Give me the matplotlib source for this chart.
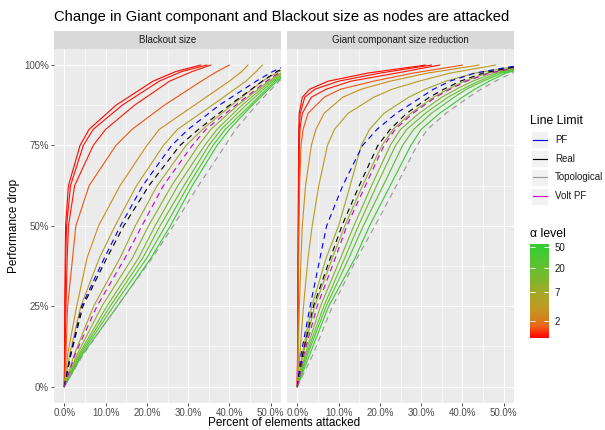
import numpy as np
import matplotlib
matplotlib.use("Agg")
import matplotlib.pyplot as plt
from matplotlib.colors import LinearSegmentedColormap, LogNorm
from matplotlib.cm import ScalarMappable
from matplotlib.patches import Rectangle
from matplotlib.ticker import NullLocator

plt.rcParams['font.family'] = ['Liberation Sans', 'DejaVu Sans']

# ---------------- data ----------------
TITLE = "Change in Giant componant and Blackout size as nodes are attacked"
PANELS = ["Blackout size", "Giant componant size reduction"]
X_LABEL = "Percent of elements attacked"
Y_LABEL = "Performance drop"
X_TICKS = [0, 10, 20, 30, 40, 50]
Y_TICKS = [0, 25, 50, 75, 100]
ALPHA_LEVELS = [1.0, 1.05, 1.1, 1.5, 3, 4.5, 7, 10, 14, 20, 30, 50]
ALPHA_TICKS = [2, 7, 20, 50]
LIMIT_NAMES = ["PF", "Real", "Topological", "Volt PF"]

# Blackout size panel: x (% attacked) at which each curve reaches these y levels (%)
BO_LEVELS = [0, 10, 25, 40, 50, 62.5, 75, 80, 87.5, 95, 98, 100]
BO_A01 = [0, 0.05, 0.1, 0.2, 0.3, 1.0, 3.8, 6.0, 12.5, 21.5, 27.0, 33.0]
BO_A02 = [0, 0.1, 0.2, 0.35, 0.55, 1.5, 4.6, 7.0, 14.0, 23.0, 28.5, 34.5]
BO_A03 = [0, 0.2, 0.4, 0.7, 1.0, 2.5, 7.0, 10.0, 17.0, 25.5, 31.0, 35.5]
BO_A04 = [0, 0.4, 0.8, 2.0, 2.8, 6.0, 12.5, 16.4, 24.2, 33.2, 37.0, 40.0]
BO_A05 = [0, 0.8, 3.0, 5.5, 8.3, 13.5, 20.0, 23.0, 31.5, 40.0, 43.0, 44.5]
BO_A06 = [0, 1.3, 4.0, 8.5, 12.3, 17.5, 24.0, 27.4, 35.8, 44.0, 46.5, 48.0]
BO_A07 = [0, 2.4, 7.1, 13.5, 17.2, 22.5, 29.5, 33.5, 40.5, 48.0, 52.0, 56.0]
BO_A08 = [0, 3.1, 9.1, 16.5, 20.4, 26.0, 32.5, 35.5, 42.0, 49.5, 53.0, 57.0]
BO_A09 = [0, 3.5, 10.3, 18.0, 22.0, 27.5, 34.0, 37.0, 43.0, 50.0, 53.5, 57.0]
BO_A10 = [0, 3.8, 11.1, 19.0, 23.2, 29.0, 35.0, 38.0, 44.0, 50.5, 54.0, 58.0]
BO_A11 = [0, 4.1, 11.9, 20.0, 24.5, 30.0, 36.0, 39.0, 45.0, 51.0, 54.5, 58.0]
BO_A12 = [0, 4.4, 12.9, 21.0, 25.7, 31.0, 37.0, 40.0, 45.5, 51.5, 55.0, 59.0]
BO_PF = [0, 1.5, 4.2, 9.7, 13.6, 19.0, 26.0, 30.0, 37.5, 46.5, 50.5, 54.0]
BO_REAL = [0, 1.6, 4.5, 10.3, 14.4, 20.5, 28.0, 32.5, 40.0, 48.0, 51.5, 55.0]
BO_TOPO = [0, 4.6, 12.8, 21.3, 26.4, 32.5, 39.0, 41.5, 46.5, 52.0, 55.5, 60.0]
BO_VOLT = [0, 2.6, 7.9, 14.7, 18.8, 24.0, 31.0, 34.3, 41.5, 49.0, 52.5, 56.0]

# Giant component panel
GC_LEVELS = [0, 10, 25, 40, 50, 62.5, 75, 80, 85, 90, 92.5, 95, 97.5, 100]
GC_A01 = [0, 0.05, 0.1, 0.15, 0.2, 0.25, 0.3, 0.35, 0.45, 1.2, 3.0, 7.5, 17.0, 31.0]
GC_A02 = [0, 0.07, 0.15, 0.2, 0.25, 0.3, 0.35, 0.45, 0.7, 1.8, 4.3, 10.0, 20.0, 32.5]
GC_A03 = [0, 0.1, 0.2, 0.25, 0.3, 0.4, 0.5, 0.65, 1.2, 3.4, 7.0, 13.0, 24.0, 34.5]
GC_A04 = [0, 0.1, 0.2, 0.3, 0.4, 0.55, 0.9, 1.4, 2.6, 6.5, 10.5, 18.5, 28.0, 40.0]
GC_A05 = [0, 0.2, 0.5, 0.9, 1.2, 2.0, 3.4, 4.5, 6.5, 11.0, 15.5, 22.5, 31.5, 44.0]
GC_A06 = [0, 0.6, 1.5, 2.6, 3.6, 5.2, 7.3, 9.0, 12.3, 18.5, 23.0, 29.5, 37.0, 48.0]
GC_A07 = [0, 1.2, 3.5, 7.0, 10.0, 12.8, 15.5, 17.5, 21.0, 27.0, 31.0, 36.0, 43.0, 55.0]
GC_A08 = [0, 1.4, 4.2, 8.5, 11.5, 15.8, 20.5, 23.2, 27.5, 33.0, 36.5, 40.5, 46.0, 56.0]
GC_A09 = [0, 1.9, 5.6, 10.5, 13.7, 18.0, 22.5, 25.0, 29.5, 35.0, 38.5, 42.5, 47.5, 57.0]
GC_A10 = [0, 2.2, 6.4, 11.5, 14.8, 19.2, 23.8, 26.5, 31.0, 36.5, 40.0, 44.0, 48.5, 57.0]
GC_A11 = [0, 2.5, 7.0, 12.5, 16.0, 20.8, 25.5, 28.2, 32.5, 38.0, 41.0, 45.0, 49.5, 58.0]
GC_A12 = [0, 3.0, 7.6, 14.0, 17.5, 22.5, 27.5, 30.0, 34.5, 40.0, 43.0, 46.5, 50.5, 58.0]
GC_PF = [0, 0.9, 3.1, 5.5, 7.1, 11.0, 15.8, 19.3, 24.0, 30.0, 33.0, 37.0, 43.0, 54.0]
GC_REAL = [0, 1.3, 3.9, 8.0, 10.8, 15.0, 19.5, 22.5, 26.5, 32.0, 35.5, 39.5, 45.0, 55.0]
GC_TOPO = [0, 3.8, 8.5, 14.5, 18.8, 24.0, 29.0, 31.5, 36.0, 41.5, 44.5, 48.0, 52.0, 60.0]
GC_VOLT = [0, 1.6, 4.8, 9.2, 12.0, 16.5, 21.0, 23.7, 28.0, 33.5, 37.0, 41.0, 46.5, 56.0]

# ---------------- style ----------------
LIMIT_COLORS = ["#0000FF", "#000000", "#999999", "#CD00CD"]
CMAP_STOPS = [
    (0.00, (255, 0, 0)), (0.06, (250, 45, 10)), (0.12, (238, 95, 22)),
    (0.20, (212, 128, 30)), (0.30, (196, 150, 34)), (0.40, (178, 162, 40)),
    (0.50, (158, 170, 42)), (0.62, (125, 182, 45)), (0.75, (100, 192, 48)),
    (0.88, (72, 200, 50)), (1.00, (50, 205, 50)),
]
cmap = LinearSegmentedColormap.from_list(
    "alpha", [(t, tuple(c / 255 for c in rgb)) for t, rgb in CMAP_STOPS])
norm = LogNorm(vmin=0.95, vmax=58)

FS_TITLE = 10.6
FS_AXTITLE = 8.5
FS_TICK = 7.0
FS_STRIP = 7.0
FS_LEGTITLE = 8.8
FS_LEGTEXT = 7.0

W, H = 605, 430
fig = plt.figure(figsize=(W / 100, H / 100), dpi=100)
fig.patch.set_facecolor("white")


def box(x0, y0, x1, y1):
    return [x0 / W, 1 - y1 / H, (x1 - x0) / W, (y1 - y0) / H]


LW = 0.82
DASH = (0, (5.0, 3.8))
PANEL_X = [(54, 281), (287, 514)]
PANEL_TOP, PANEL_BOTTOM = 49, 402.7
STRIP_TOP = 30.5
X_MINOR = [5, 15, 25, 35, 45]
Y_MINOR = [12.5, 37.5, 62.5, 87.5]

panel_data = [
    (BO_LEVELS,
     [BO_A01, BO_A02, BO_A03, BO_A04, BO_A05, BO_A06, BO_A07, BO_A08, BO_A09, BO_A10, BO_A11, BO_A12],
     [BO_PF, BO_REAL, BO_TOPO, BO_VOLT]),
    (GC_LEVELS,
     [GC_A01, GC_A02, GC_A03, GC_A04, GC_A05, GC_A06, GC_A07, GC_A08, GC_A09, GC_A10, GC_A11, GC_A12],
     [GC_PF, GC_REAL, GC_TOPO, GC_VOLT]),
]

for i, ((x0, x1), (levels, acurves, lcurves)) in enumerate(zip(PANEL_X, panel_data)):
    ax = fig.add_axes(box(x0, PANEL_TOP, x1, PANEL_BOTTOM))
    ax.set_facecolor("#EBEBEB")
    for s in ax.spines.values():
        s.set_visible(False)
    ax.set_xlim(-2.5, 52.5)
    ax.set_ylim(-5, 105)
    ax.set_xticks(X_TICKS)
    ax.set_xticks(X_MINOR, minor=True)
    ax.set_yticks(Y_TICKS)
    ax.set_yticks(Y_MINOR, minor=True)
    ax.grid(which="major", color="white", linewidth=0.8)
    ax.grid(which="minor", color="white", linewidth=0.4)
    ax.set_axisbelow(True)
    ax.tick_params(which="minor", length=0)
    ax.tick_params(which="major", length=2.3, width=0.6, color="#333333",
                   labelsize=FS_TICK, labelcolor="#4D4D4D", pad=1.5)
    ax.set_xticklabels([f"{v:.1f}%" for v in X_TICKS])
    if i == 0:
        ax.set_yticklabels([f"{v}%" for v in Y_TICKS])
    else:
        ax.tick_params(axis="y", which="both", left=False, labelleft=False)
    for a, xs in zip(ALPHA_LEVELS, acurves):
        ax.plot(xs, levels, color=cmap(norm(a)), lw=LW, zorder=2)
    for col, xs in zip(LIMIT_COLORS, lcurves):
        ax.plot(xs, levels, color=col, lw=LW, linestyle=DASH, zorder=3)

    sax = fig.add_axes(box(x0, STRIP_TOP, x1, PANEL_TOP))
    sax.set_facecolor("#D9D9D9")
    sax.set_xticks([])
    sax.set_yticks([])
    for s in sax.spines.values():
        s.set_visible(False)
    sax.text(0.5, 0.5, PANELS[i], ha="center", va="center", fontsize=FS_STRIP,
             color="#1A1A1A", transform=sax.transAxes)

# titles
fig.text(54 / W, 1 - 21.5 / H, TITLE, fontsize=FS_TITLE, ha="left", va="baseline", color="black")
fig.text(14 / W, 1 - 226 / H, Y_LABEL, rotation=90, fontsize=FS_AXTITLE, ha="center", va="center")
fig.text(284 / W, 1 - 423.5 / H, X_LABEL, fontsize=FS_AXTITLE, ha="center", va="center")

# legend: Line Limit
lax = fig.add_axes([0, 0, 1, 1])
lax.set_xlim(0, W)
lax.set_ylim(H, 0)
lax.axis("off")
lax.text(530, 121, "Line Limit", fontsize=FS_LEGTITLE, va="center", ha="left")
for k, (name, col) in enumerate(zip(LIMIT_NAMES, LIMIT_COLORS)):
    ytop = 131 + k * 18.9
    lax.add_patch(Rectangle((531, ytop), 17.3, 17.3, facecolor="#F2F2F2",
                            edgecolor="white", lw=0.7))
    lax.plot([533, 547], [ytop + 8.65] * 2, color=col, lw=LW)
    lax.text(555, ytop + 8.65, name, fontsize=FS_LEGTEXT, va="center", ha="left", color="#1A1A1A")

# colour bar
lax.text(530, 234, "\u03b1 level", fontsize=FS_LEGTITLE, va="center", ha="left")
cax = fig.add_axes(box(530, 244, 549, 338))
sm = ScalarMappable(norm=norm, cmap=cmap)
cb = fig.colorbar(sm, cax=cax)
cb.outline.set_visible(False)
cb.set_ticks(ALPHA_TICKS)
cb.set_ticklabels([str(v) for v in ALPHA_TICKS])
cax.yaxis.set_minor_locator(NullLocator())
cax.tick_params(axis="y", which="major", direction="in", length=3.5, width=0.7,
                color="white", left=True, right=True, labelsize=FS_LEGTEXT,
                labelcolor="#1A1A1A", pad=4)

fig.savefig("out.png", dpi=100)
